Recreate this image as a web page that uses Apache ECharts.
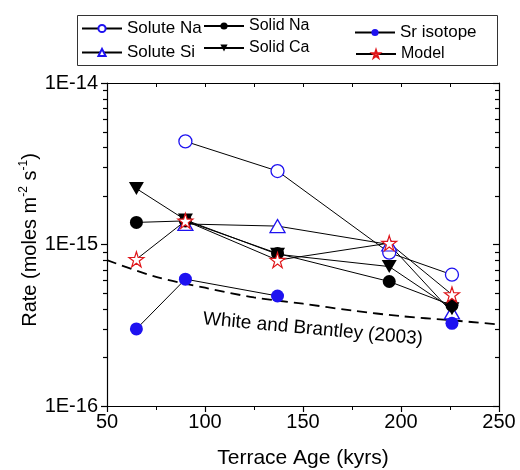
<!DOCTYPE html>
<html>
<head>
<meta charset="utf-8">
<script src="https://cdn.jsdelivr.net/npm/echarts@6/dist/echarts.min.js"></script>
<style>
  html, body { margin: 0; padding: 0; background: #fff; }
  #chart { width: 520px; height: 470px; }
</style>
</head>
<body>
<div id="chart"></div>
<script>
// Weathering rates versus terrace age
const ages = [65, 90, 137, 194, 226];
const soluteNa = [null, 4.35e-15, 2.85e-15, 0.89e-15, 0.65e-15];
const soluteSi = [null, 1.34e-15, 1.30e-15, 1.00e-15, 0.38e-15];
const solidNa = [1.37e-15, 1.40e-15, 0.88e-15, 0.59e-15, 0.42e-15];
const solidCa = [2.22e-15, 1.42e-15, 0.87e-15, 0.73e-15, 0.40e-15];
const srIsotope = [3.0e-16, 6.1e-16, 4.8e-16, null, 3.25e-16];
const model = [0.81e-15, 1.40e-15, 0.80e-15, 1.02e-15, 0.49e-15];

// White and Brantley (2003) trend
const wbAges = [50, 75, 100, 125, 150, 175, 200, 225, 250];
const wbRate = [8.0e-16, 6.3e-16, 5.4e-16, 4.7e-16, 4.3e-16, 3.9e-16, 3.6e-16, 3.4e-16, 3.2e-16];

// Axis labels
const yTickExponents = [-16, -15, -14];
const yTickLabels = ['1E-16', '1E-15', '1E-14'];

const FONT = 'Liberation Sans, Arial, Helvetica, sans-serif';
const BLUE = '#1e12f0';
const RED = '#e0161a';
const STAR = 'path://M50,0 L61.2,34.5 L97.6,34.5 L68.2,55.9 L79.4,90.5 L50,69.1 L20.6,90.5 L31.8,55.9 L2.4,34.5 L38.8,34.5 Z';

const pairs = vals => ages.map((a, i) => [a, vals[i] == null ? '-' : vals[i]]);

// minor tick positions on the log axis (2..9 in each decade)
const minorVals = [];
[-16, -15].forEach(d => { for (let m = 2; m <= 9; m++) minorVals.push(m * Math.pow(10, d)); });

const baseLine = { color: '#000', width: 1 };

function pointSeries(name, vals, symbol, size, itemStyle, extra) {
  return Object.assign({
    name: name,
    type: 'line',
    data: pairs(vals),
    symbol: symbol,
    symbolSize: size,
    showAllSymbol: true,
    lineStyle: baseLine,
    itemStyle: itemStyle,
    emphasis: { disabled: true },
    animation: false
  }, extra || {});
}

function legendAt(name, left, top, fontSize) {
  return {
    data: [name],
    left: left, top: top,
    padding: 0,
    itemWidth: 40, itemHeight: 9,
    selectedMode: false,
    textStyle: { fontFamily: FONT, fontSize: fontSize, color: '#000' }
  };
}

const chart = echarts.init(document.getElementById('chart'), null, { renderer: 'canvas' });

chart.setOption({
  backgroundColor: '#fff',
  animation: false,
  grid: { left: 107, right: 21, top: 83, bottom: 64 },
  legend: [
    legendAt('Solute Na', 81, 20, 17),
    legendAt('Solute Si', 81, 44, 17),
    legendAt('Solid Na', 203, 18, 16),
    legendAt('Solid Ca', 203, 40, 16),
    legendAt('Sr isotope', 354, 24, 17),
    legendAt('Model', 355, 46, 16)
  ],
  xAxis: [
    {
      type: 'value', min: 50, max: 250, interval: 50, position: 'bottom',
      axisLine: { show: true, lineStyle: { color: '#000', width: 1.2 } },
      axisTick: { show: true, length: 6, lineStyle: { color: '#000', width: 1.2 } },
      minorTick: { show: true, splitNumber: 2, length: 4, lineStyle: { color: '#000', width: 1 } },
      axisLabel: { fontFamily: FONT, fontSize: 20, color: '#000', margin: 6 },
      splitLine: { show: false }
    },
    {
      type: 'value', min: 50, max: 250, interval: 50, position: 'top',
      axisLine: { show: true, lineStyle: { color: '#000', width: 1.2 } },
      axisTick: { show: true, inside: true, length: 4, lineStyle: { color: '#000', width: 1 } },
      minorTick: { show: true, splitNumber: 2, length: 4, lineStyle: { color: '#000', width: 1 } },
      axisLabel: { show: false },
      splitLine: { show: false }
    }
  ],
  yAxis: [
    {
      type: 'log', logBase: 10, min: 1e-16, max: 1e-14, interval: 1, position: 'left',
      axisLine: { show: true, lineStyle: { color: '#000', width: 1.2 } },
      axisTick: { show: true, length: 6, lineStyle: { color: '#000', width: 1.2 } },
      axisLabel: {
        fontFamily: FONT, fontSize: 20, color: '#000', margin: 9,
        formatter: v => {
          const i = yTickExponents.indexOf(Math.round(Math.log10(v)));
          return i >= 0 ? yTickLabels[i] : '';
        }
      },
      splitLine: { show: false }
    },
    {
      type: 'log', logBase: 10, min: 1e-16, max: 1e-14, interval: 1, position: 'right',
      axisLine: { show: true, lineStyle: { color: '#000', width: 1.2 } },
      axisTick: { show: true, inside: true, length: 6, lineStyle: { color: '#000', width: 1.2 } },
      axisLabel: { show: false },
      splitLine: { show: false }
    }
  ],
  series: [
    {
      name: 'White and Brantley (2003)',
      type: 'line',
      data: wbAges.map((a, i) => [a, wbRate[i]]),
      symbol: 'none',
      smooth: 0.3,
      lineStyle: { color: '#000', width: 1.8, type: [10, 6] },
      emphasis: { disabled: true },
      z: 1
    },
    pointSeries('Solute Na', soluteNa, 'circle', 13,
      { color: '#fff', borderColor: BLUE, borderWidth: 1.3 }),
    pointSeries('Solute Si', soluteSi, 'triangle', [15, 13],
      { color: '#fff', borderColor: BLUE, borderWidth: 1.3 }),
    pointSeries('Solid Na', solidNa, 'circle', 13,
      { color: '#000', borderColor: '#000', borderWidth: 0 }),
    pointSeries('Solid Ca', solidCa, 'triangle', [15, 13],
      { color: '#000', borderColor: '#000', borderWidth: 0 }, { symbolRotate: 180 }),
    pointSeries('Sr isotope', srIsotope, 'circle', 13,
      { color: BLUE, borderColor: BLUE, borderWidth: 0 }),
    pointSeries('Model', model, STAR, 15,
      { color: '#fff', borderColor: RED, borderWidth: 1.2 })
  ]
});

// Frame, titles, annotation and log-axis minor ticks
const graphics = [
  { type: 'rect', id: 'legendFrame', left: 75, top: 13, shape: { width: 420, height: 50 },
    style: { fill: 'none', stroke: '#333', lineWidth: 1 }, silent: true },
  { type: 'text', id: 'wbLabel', x: 203, y: 319, rotation: -0.092,
    style: { text: 'White and Brantley (2003)', font: '19px ' + FONT, fill: '#000',
             align: 'left', verticalAlign: 'middle' }, silent: true },
  { type: 'text', id: 'xTitle', x: 303, y: 458,
    style: { text: 'Terrace Age (kyrs)', font: '21px ' + FONT, fill: '#000',
             align: 'center', verticalAlign: 'middle' }, silent: true },
  { type: 'text', id: 'yTitle', x: 30, y: 240, rotation: Math.PI / 2,
    style: {
      text: '{a|Rate (moles m}{s|-2}{a| s}{s|-1}{a|)}',
      align: 'center', verticalAlign: 'middle',
      rich: {
        a: { fontFamily: FONT, fontSize: 20, lineHeight: 24, fill: '#000' },
        s: { fontFamily: FONT, fontSize: 12, lineHeight: 12, verticalAlign: 'top', fill: '#000' }
      }
    }, silent: true }
];
const xLeft = chart.convertToPixel({ xAxisIndex: 0 }, 50);
const xRight = chart.convertToPixel({ xAxisIndex: 0 }, 250);
minorVals.forEach((v, k) => {
  const y = Math.round(chart.convertToPixel({ yAxisIndex: 0 }, v)) + 0.5;
  graphics.push(
    { type: 'line', id: 'mtl' + k, silent: true, z: 10,
      shape: { x1: xLeft - 4, y1: y, x2: xLeft, y2: y },
      style: { stroke: '#000', lineWidth: 1.2 } },
    { type: 'line', id: 'mtr' + k, silent: true, z: 10,
      shape: { x1: xRight - 4, y1: y, x2: xRight, y2: y },
      style: { stroke: '#000', lineWidth: 1.2 } }
  );
});
chart.setOption({ graphic: { elements: graphics } });
</script>
</body>
</html>
